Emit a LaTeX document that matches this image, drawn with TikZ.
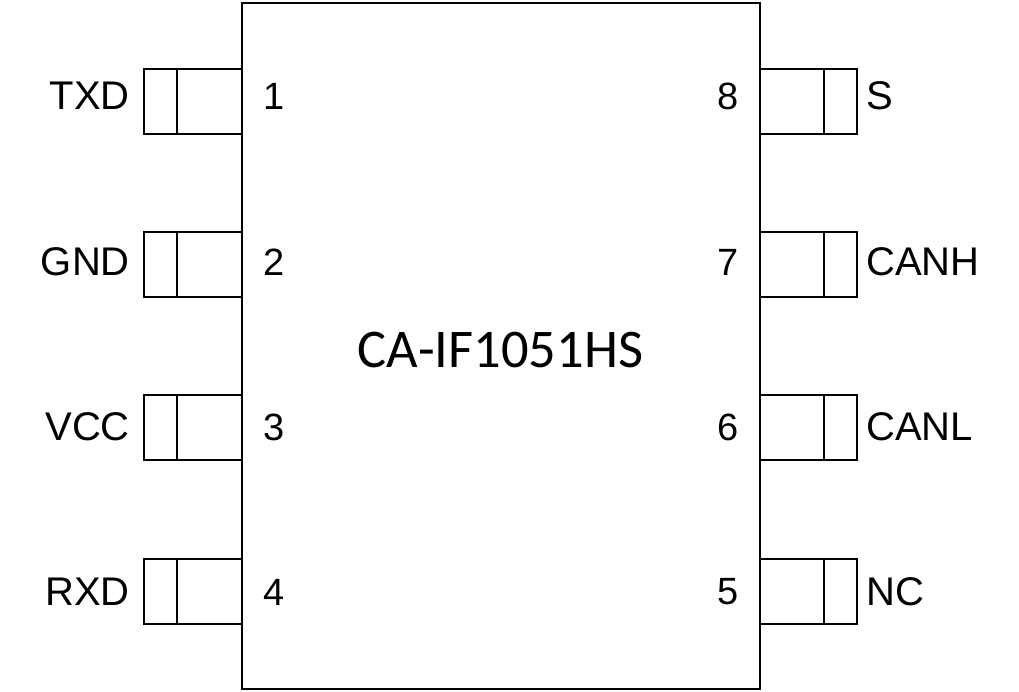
\documentclass[tikz,border=0pt]{standalone}
\usepackage{fontspec}
\setmainfont{Liberation Sans}
\newfontfamily\chipfont{Carlito}
\tikzset{
  x=1pt,y=-1pt,
  outline/.style={draw=black,line width=2pt},
  pinlabel/.style={font=\fontsize{40}{44}\selectfont,text=black,inner sep=0pt},
  numlabel/.style={font=\fontsize{38}{42}\selectfont,text=black,inner sep=0pt}
}
\begin{document}
\begin{tikzpicture}
\useasboundingbox (0,0) rectangle (1019,692);
\node[outline,minimum width=518pt,minimum height=685pt,inner sep=0pt] (body) at (500.8,346) {};
\foreach \n/\y/\ty/\t in {1/101.7/96/TXD,2/264.7/262/GND,3/427.7/427/VCC,4/591.2/592/RXD}{
  \coordinate (lt\n) at (241.7,\y-32.5);
  \coordinate (lb\n) at (241.7,\y+32.5);
  \coordinate (lo\n) at (144.3,\y-32.5);
  \coordinate (lq\n) at (144.3,\y+32.5);
  \coordinate (lm\n) at (176.5,\y-32.5);
  \coordinate (ln\n) at (176.5,\y+32.5);
  \draw[outline] (lt\n) -- (lo\n) -- (lq\n) -- (lb\n);
  \draw[outline] (lm\n) -- (ln\n);
  \node[pinlabel,anchor=east] (lab\n) at (130,\ty) {\t};
  \node[numlabel] (num\n) at (274,\ty) {\n};
}
\foreach \n/\y/\ty/\t in {8/101.7/96/S,7/264.7/262/CANH,6/427.7/427/CANL,5/591.2/592/NC}{
  \coordinate (rt\n) at (759.7,\y-32.5);
  \coordinate (rb\n) at (759.7,\y+32.5);
  \coordinate (ro\n) at (856.7,\y-32.5);
  \coordinate (rq\n) at (856.7,\y+32.5);
  \coordinate (rm\n) at (824.3,\y-32.5);
  \coordinate (rn\n) at (824.3,\y+32.5);
  \draw[outline] (rt\n) -- (ro\n) -- (rq\n) -- (rb\n);
  \draw[outline] (rm\n) -- (rn\n);
  \node[pinlabel,anchor=west] (lab\n) at (866,\ty) {\t};
  \node[numlabel] (num\n) at (728,\ty) {\n};
}
\node[font=\chipfont\fontsize{54.5}{58}\selectfont,inner sep=0pt] (title) at (500.5,350) {CA-IF1051HS};
\end{tikzpicture}
\end{document}
